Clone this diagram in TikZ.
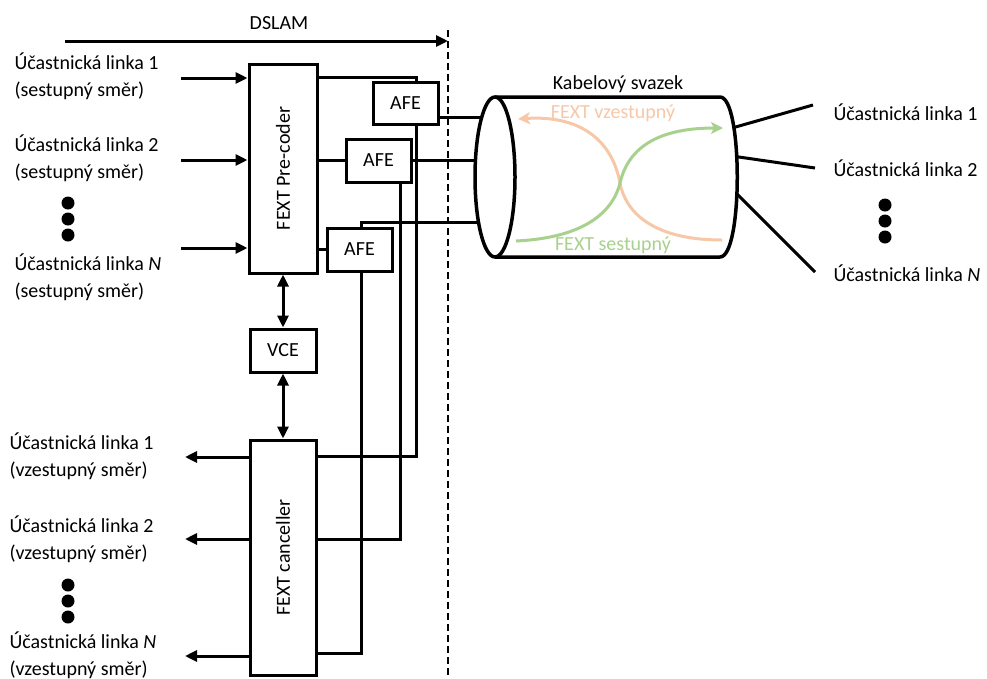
\documentclass[tikz,border=0pt]{standalone}
\usepackage{fontspec}
\setmainfont{Carlito}
\usetikzlibrary{arrows.meta,calc,shapes.geometric}
\definecolor{peach}{HTML}{F7C8A8}
\definecolor{lgreen}{HTML}{A9D18E}
\begin{document}
\begin{tikzpicture}[x=1pt,y=-1pt, font=\fontsize{20}{27}\selectfont, line width=3pt,
 box/.style={draw, rectangle, inner sep=0pt},
 lbl/.style={anchor=west, inner sep=0pt, align=left},
 arr/.style={-{Triangle[length=12pt,width=11pt]}},
 darr/.style={{Triangle[length=12pt,width=11pt]}-{Triangle[length=12pt,width=11pt]}},
 dot/.style={circle, fill=black, inner sep=0pt, minimum size=13pt},
 curv/.style={line width=3pt, -{Stealth[length=12pt,width=12pt,inset=3pt]}}]
\useasboundingbox (0,0) rectangle (987,678);

% main boxes
\node[box, minimum width=68pt, minimum height=209pt] (pre) at (283,168.5) {};
\node[rotate=90] (pretxt) at (pre) {FEXT Pre-coder};
\node[box, minimum width=66pt, minimum height=43pt] (vce) at (283,350.5) {VCE};
\node[box, minimum width=66pt, minimum height=235pt] (canc) at (283,557.5) {};
\node[rotate=90] (canctxt) at (canc) {FEXT canceller};
\node[box, minimum width=65pt, minimum height=42pt] (afe1) at (405.5,103) {AFE};
\node[box, minimum width=65pt, minimum height=43pt] (afe2) at (378.5,160.5) {AFE};
\node[box, minimum width=65pt, minimum height=43pt] (afe3) at (359.5,249.5) {AFE};

% DSLAM
\node (dslam) at (279,23) {DSLAM};
\coordinate (dtop) at (448,30);
\coordinate (dbot) at (448,678);
\draw[line width=2.6pt, dash pattern=on 7pt off 4pt] (dtop) -- (dbot);
\coordinate (ds0) at (65,41);
\draw[arr] (ds0) -- (ds0 -| dtop);

% left input labels
\node[lbl] (in1l) at (13,76.5) {Účastnická linka 1\\(sestupný směr)};
\node[lbl] (in2l) at (13,158.5) {Účastnická linka 2\\(sestupný směr)};
\node[lbl] (inNl) at (13,277.5) {Účastnická linka \textit{N}\\(sestupný směr)};
\node[dot] (da1) at (68,203) {};
\node[dot] (da2) at (68,219) {};
\node[dot] (da3) at (68,235) {};
\coordinate (in1) at (181,78);
\coordinate (in2) at (181,160);
\coordinate (inN) at (181,248);
\draw[arr] (in1) -- (in1 -| pre.west);
\draw[arr] (in2) -- (in2 -| pre.west);
\draw[arr] (inN) -- (inN -| pre.west);

% left output labels
\node[lbl] (out1l) at (8,456.5) {Účastnická linka 1\\(vzestupný směr)};
\node[lbl] (out2l) at (8,539) {Účastnická linka 2\\(vzestupný směr)};
\node[lbl] (outNl) at (8,655.5) {Účastnická linka \textit{N}\\(vzestupný směr)};
\node[dot] (db1) at (68,585) {};
\node[dot] (db2) at (68,601) {};
\node[dot] (db3) at (68,617) {};
\coordinate (out1) at (185,457);
\coordinate (out2) at (185,539);
\coordinate (outN) at (185,656);
\draw[arr] (out1 -| canc.west) -- (out1);
\draw[arr] (out2 -| canc.west) -- (out2);
\draw[arr] (outN -| canc.west) -- (outN);

% VCE links
\draw[darr] (pre.south) -- (vce.north);
\draw[darr] (vce.south) -- (canc.north);

% AFE wiring
\coordinate (b1) at (416,77);
\coordinate (r1) at (416,456);
\coordinate (r2) at (400,539);
\coordinate (r3) at (361,653);
\coordinate (t3) at (361,222);
\draw (pre.east |- b1) -- (b1) -- (b1 |- afe1.north);
\draw (afe1.south -| r1) -- (r1) -- (r1 -| canc.east);
\draw (afe2.south -| r2) -- (r2) -- (r2 -| canc.east);
\draw (afe3.south -| r3) -- (r3) -- (r3 -| canc.east);
\draw (afe2.west) -- (afe2.west -| pre.east);
\draw (afe3.west) -- (afe3.west -| pre.east);

% cable bundle
\coordinate (cylc) at (495,177);
\coordinate (o1) at (438,117);
\draw (o1) -- (o1 -| cylc);
\draw (afe2.east) -- (afe2.east -| cylc);
\draw (afe3.north -| t3) -- (t3) -- (t3 -| cylc);

\node[lbl] (rl1) at (832,112) {Účastnická linka 1};
\node[lbl] (rl2) at (832,168) {Účastnická linka 2};
\node[lbl] (rlN) at (832,273) {Účastnická linka \textit{N}};
\node[dot] (dc1) at (885,205) {};
\node[dot] (dc2) at (885,221) {};
\node[dot] (dc3) at (885,237) {};
\coordinate (e1) at (725,130);
\coordinate (e2) at (725,155);
\coordinate (e3) at (725,182);
\draw (e1) -- ($(rl1.west)+(-19,-7)$);
\draw (e2) -- ($(rl2.west)+(-17,0)$);
\draw (e3) -- ($(rlN.west)+(-17,-1)$);

\draw[line width=3.5pt, fill=white] (495,97) -- (720,97) .. controls (743,97) and (743,257) .. (720,257) -- (495,257);
\node[ellipse, draw, line width=3.5pt, fill=white, minimum width=40pt, minimum height=160pt, inner sep=0pt] (cylL) at (cylc) {};

\node (kab) at (618,84) {Kabelový svazek};
\node[text=peach] (fv) at (613,113) {FEXT vzestupný};
\node[text=lgreen] (fs) at (613,245) {FEXT sestupný};
\draw[curv, draw=peach, color=peach] (722,240) .. controls (650,240) and (625,210) .. (620,183) .. controls (612,140) and (580,115) .. (518,119);
\draw[curv, draw=lgreen, color=lgreen] (516,241) .. controls (580,238) and (612,215) .. (620,183) .. controls (630,140) and (670,128) .. (723,128);
\end{tikzpicture}
\end{document}
